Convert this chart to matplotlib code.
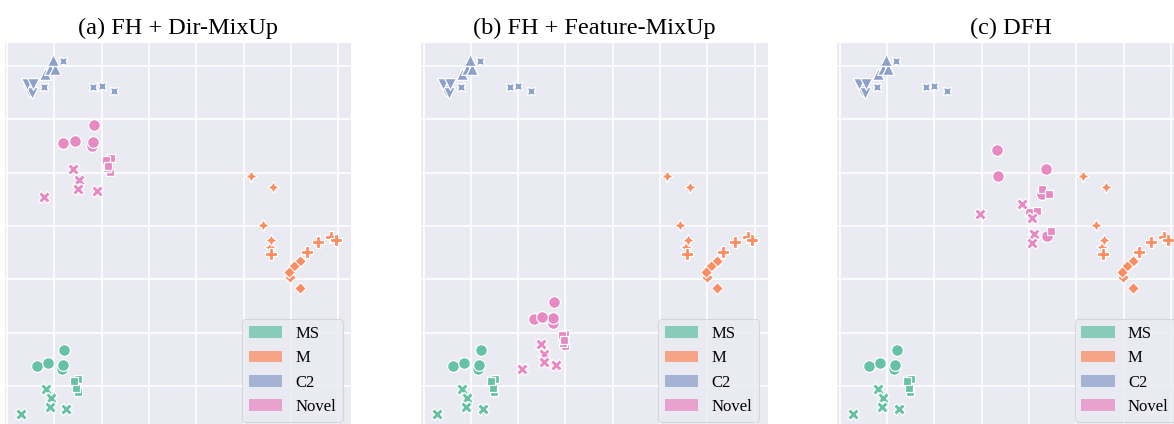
import numpy as np
import matplotlib
matplotlib.use("Agg")
import matplotlib.pyplot as plt
from matplotlib.patches import Patch

# ---------------- data (t-SNE style embedding coordinates) ----------------
titles = ["(a) FH + Dir-MixUp", "(b) FH + Feature-MixUp", "(c) DFH"]
domains = ["MS", "M", "C2", "Novel"]
colors = {"MS": "#66c2a5", "M": "#fc8d62", "C2": "#8da0cb", "Novel": "#e78ac3"}

# class index -> seaborn default marker order
marker_list = ["o", "X", (4, 0, 45), "P", (4, 0, 0), (4, 1, 0), "^", (4, 1, 45), "v"]

# MS (classes 0,1,2)
ms_x = [61.7, 62.7, 64.0, 36.7, 47.7, 77.7, 76.0, 78.3, 74.0, 45.7, 50.7, 49.7, 66.3, 20.7]
ms_y = [55.0, 59.0, 74.0, 58.0, 60.7, 32.3, 35.7, 44.7, 43.0, 34.7, 25.7, 17.3, 15.3, 10.0]
ms_c = [0, 0, 0, 0, 0, 2, 2, 2, 2, 1, 1, 1, 1, 1]

# M (classes 5,3,4)
m_x = [250.7, 273.3, 263.3, 269.7, 271.0, 270.7, 306.7, 318.3, 331.0, 335.7, 300.0, 294.3, 290.0, 289.3, 300.0]
m_y = [248.0, 237.3, 198.7, 177.3, 184.0, 170.0, 172.3, 182.3, 187.3, 184.0, 163.0, 158.0, 147.3, 152.3, 135.7]
m_c = [5, 5, 5, 5, 5, 3, 3, 3, 3, 3, 4, 4, 4, 4, 4]

# C2 (classes 6,7,8)
c2_x = [45.5, 50.0, 55.0, 53.3, 63.3, 44.0, 93.3, 101.7, 114.0, 29.3, 32.0, 26.7, 33.3]
c2_y = [350.5, 355.0, 355.5, 364.0, 362.7, 337.3, 336.7, 338.0, 333.3, 333.3, 330.7, 340.0, 339.7]
c2_c = [6, 6, 6, 6, 7, 7, 7, 7, 7, 8, 8, 8, 8]

# Novel classes (0,1,2 markers) - differ per method
novel_c = [0, 0, 0, 0, 0, 2, 2, 2, 2, 2, 1, 1, 1, 1, 1]
novel_a_x = [91.7, 92.7, 94.3, 63.0, 75.3, 110.3, 107.3, 111.0, 106.0, 108.5, 73.0, 79.0, 77.7, 96.7, 44.0]
novel_a_y = [278.0, 282.0, 299.3, 280.7, 283.3, 252.0, 256.0, 265.7, 264.0, 258.0, 254.7, 244.0, 235.0, 232.7, 227.3]
novel_b_x = [136.2, 136.8, 137.8, 117.5, 125.8, 148.2, 146.5, 148.5, 145.8, 147.0, 124.2, 127.8, 127.2, 139.5, 105.8]
novel_b_y = [101.3, 105.7, 121.7, 104.7, 107.3, 78.0, 81.3, 90.0, 89.0, 84.0, 80.0, 70.0, 61.7, 59.3, 54.7]
novel_c_x = [164.3, 165.6, 213.0, 209.0, 214.6, 209.0, 216.6, 196.6, 204.6, 218.0, 189.6, 147.3, 199.0, 201.6, 199.6]
novel_c_y = [274.3, 248.3, 255.0, 230.0, 188.0, 234.7, 230.0, 212.3, 213.0, 193.3, 220.0, 210.0, 205.7, 190.0, 180.7]
novel_sets = [(novel_a_x, novel_a_y), (novel_b_x, novel_b_y), (novel_c_x, novel_c_y)]

# grid (tick) positions
xticks = 7.0 + 47.33 * np.arange(0, 8)
yticks = 38.0 + 53.33 * np.arange(-1, 7)

# ---------------- figure ----------------
W, H = 1174, 424
fig = plt.figure(figsize=(W / 100, H / 100), dpi=100)
fig.patch.set_facecolor("white")

ax_left = [4.5, 421.0, 837.2]
ax_w = 346.5
ax_top = 42.5
ax_bot = 430.0

plt.rcParams["font.family"] = ["Liberation Serif", "DejaVu Serif"]


def scatter_group(ax, xs, ys, cls, color):
    xs = np.asarray(xs)
    ys = np.asarray(ys)
    cls = np.asarray(cls)
    for i in range(len(xs)):
        ax.scatter(xs[i], ys[i], s=72, marker=marker_list[cls[i]], color=color,
                   edgecolor="white", linewidth=0.9, zorder=3)


for k in range(3):
    ax = fig.add_axes([ax_left[k] / W, (H - ax_bot) / H, ax_w / W, (ax_bot - ax_top) / H])
    ax.set_facecolor("#EAEAF2")
    for s in ax.spines.values():
        s.set_visible(False)
    ax.set_xticks(xticks)
    ax.set_yticks(yticks)
    ax.tick_params(length=0, labelbottom=False, labelleft=False)
    ax.grid(True, color="white", linewidth=1.2, zorder=0)
    ax.set_axisbelow(True)
    ax.set_xlim(4.5, 4.5 + ax_w)
    ax.set_ylim(424 - ax_bot, 424 - ax_top)

    scatter_group(ax, ms_x, ms_y, ms_c, colors["MS"])
    scatter_group(ax, m_x, m_y, m_c, colors["M"])
    scatter_group(ax, c2_x, c2_y, c2_c, colors["C2"])
    nx, ny = novel_sets[k]
    scatter_group(ax, nx, ny, novel_c, colors["Novel"])

    ax.set_title(titles[k], fontsize=17.5, fontfamily=["Liberation Serif"])

    handles = [Patch(facecolor=colors[d], alpha=0.75, edgecolor="none", label=d) for d in domains]
    leg = ax.legend(handles=handles, loc="lower right", fontsize=12,
                    prop={"family": "Liberation Serif", "size": 12},
                    frameon=True, facecolor="#EAEAF2", edgecolor="#d0d0d8",
                    framealpha=0.8, bbox_to_anchor=(1 - 0.0, 0.0 + 0.0))
    leg.get_frame().set_linewidth(0.8)

fig.savefig("out.png", dpi=100)
